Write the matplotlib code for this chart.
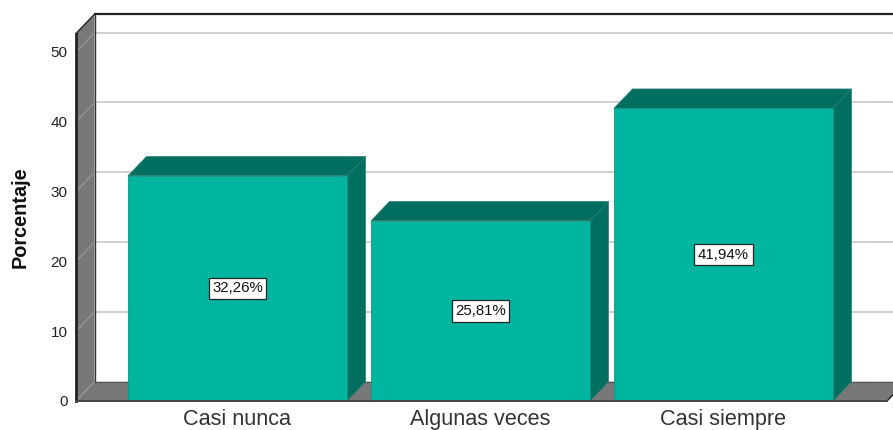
import matplotlib
matplotlib.use('Agg')
from matplotlib import pyplot as plt
from matplotlib.patches import Polygon

categories = ['Casi nunca', 'Algunas veces', 'Casi siempre']
percent = [32.26, 25.81, 41.94]
labels = ['32,26%', '25,81%', '41,94%']
y_ticks = [0, 10, 20, 30, 40, 50]

plt.rcParams['font.family'] = ['Liberation Sans', 'DejaVu Sans']

FACE = '#00B5A0'
DARK = '#006F60'
WALL = '#787878'
GRID = '#C8C8C8'
LINE = '#222222'

W, H = 893, 430
fig = plt.figure(figsize=(W / 100, H / 100), dpi=100)

# axes covers the front plane of the 3D box, the depth is an offset from it
left, right, bottom, top = 76, 893, 401, 33.5
ax = fig.add_axes([left / W, 1 - bottom / H, (right - left) / W, (bottom - top) / H])
ax.set_xlim(-0.6646, 2.6975)
ax.set_ylim(0, 52.65)

px_x = 1 / 243          # one pixel in category units
px_y = 10 / 69.8        # one pixel in percent units
dx = 18.5 * px_x
dy = 19.3 * px_y

x0, x1 = ax.get_xlim()
y0, y1 = ax.get_ylim()
floor_end = x0 + 811 * px_x   # floor stops just before the image edge
half = 109.5 * px_x           # half a bar width

def poly(points, **kw):
    ax.add_patch(Polygon(points, closed=True, clip_on=False, **kw))

# left wall and floor
poly([(x0, y0), (x0 + dx, dy), (x0 + dx, y1 + dy), (x0, y1)], fc=WALL, ec='none', zorder=2)
poly([(x0, y0), (x0 + dx, dy), (floor_end + dx, dy), (floor_end, y0)], fc=WALL, ec='none', zorder=2)

# gridlines on the back wall and down the side wall
for t in y_ticks[1:]:
    ax.plot([x0 + dx, x1 + dx], [t + dy, t + dy], color=GRID, lw=1.2, zorder=1, clip_on=False)
for t in y_ticks:
    ax.plot([x0, x0 + dx], [t, t + dy], color='#A0A0A0', lw=0.7, zorder=3, clip_on=False)

# box edges
ax.plot([x0 + dx, x0 + dx], [dy, y1 + dy], color='#333333', lw=1.0, zorder=3, clip_on=False)
ax.plot([x0, x0], [y0, y1], color=LINE, lw=2.0, zorder=3, clip_on=False)
ax.plot([x0, x0 + dx], [y1, y1 + dy], color=LINE, lw=1.0, zorder=3, clip_on=False)
ax.plot([x0 + dx, x1 + dx], [y1 + dy, y1 + dy], color=LINE, lw=1.6, zorder=3, clip_on=False)
ax.plot([x0 + dx, floor_end + dx], [dy, dy], color='#555555', lw=0.8, zorder=3, clip_on=False)
ax.plot([x0, floor_end], [y0, y0], color='#444444', lw=1.4, zorder=6, clip_on=False)
ax.plot([floor_end, floor_end + dx], [y0, dy], color=LINE, lw=1.0, zorder=3, clip_on=False)

# bars
for i, v in enumerate(percent):
    a, b = i - half, i + half
    poly([(a, 0), (b, 0), (b, v), (a, v)], fc=FACE, ec='#14917F', lw=0.6, zorder=5)
    poly([(a, v), (a + dx, v + dy), (b + dx, v + dy), (b, v)], fc=DARK, ec='#2A7F72', lw=0.5, zorder=4)
    poly([(b, 0), (b + dx, dy), (b + dx, v + dy), (b, v)], fc=DARK, ec='#2A7F72', lw=0.5, zorder=4)
    ax.text(i, v / 2, labels[i], ha='center', va='center', fontsize=10.8, color='#111111', zorder=7,
            bbox=dict(boxstyle='square,pad=0.24', fc='white', ec='#222222', lw=0.9))

ax.set_xticks(range(len(categories)))
ax.set_xticklabels(categories, fontsize=15.6, color='#333333')
ax.set_yticks(y_ticks)
ax.set_yticklabels([str(t) for t in y_ticks], fontsize=11, color='#222222')
ax.tick_params(axis='both', length=0)
ax.tick_params(axis='x', pad=6)
ax.tick_params(axis='y', pad=6)
for s in ax.spines.values():
    s.set_visible(False)
ax.patch.set_visible(False)

fig.text(20.5 / W, 1 - 217.5 / H, 'Porcentaje', rotation=90, ha='center', va='center',
         fontsize=14.3, fontweight='bold', color='#111111')

fig.savefig('out.png', dpi=100)
